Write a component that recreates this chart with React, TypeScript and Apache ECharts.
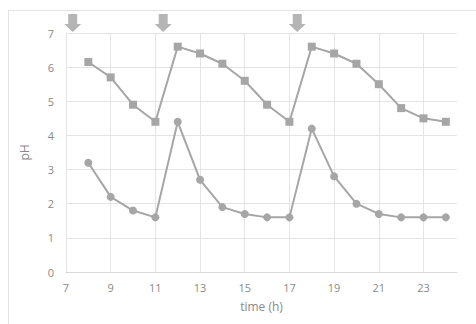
import React, { useEffect, useRef } from "react";
import * as echarts from "echarts";

const hours = [8, 9, 10, 11, 12, 13, 14, 15, 16, 17, 18, 19, 20, 21, 22, 23, 24];
const squareSeries = [6.15, 5.7, 4.9, 4.4, 6.6, 6.4, 6.1, 5.6, 4.9, 4.4, 6.6, 6.4, 6.1, 5.5, 4.8, 4.5, 4.4];
const circleSeries = [3.2, 2.2, 1.8, 1.6, 4.4, 2.7, 1.9, 1.7, 1.6, 1.6, 4.2, 2.8, 2.0, 1.7, 1.6, 1.6, 1.6];
const arrowTimes = [7.3, 11.35, 17.35];
const arrowLevel = 7;

const LINE = "#a6a6a6";
const TEXT = "#8a8a8a";
const FONT = "'Open Sans', 'Liberation Sans', sans-serif";

export default function App() {
  const ref = useRef<HTMLDivElement>(null);
  useEffect(() => {
    if (!ref.current) return;
    const chart = echarts.init(ref.current, null, { renderer: "svg" });
    const pair = (ys: number[]) => hours.map((h, i) => [h, ys[i]]);
    chart.setOption({
      animation: false,
      backgroundColor: "#ffffff",
      textStyle: { fontFamily: FONT },
      graphic: [
        {
          type: "rect",
          shape: { x: 8.5, y: 10.5, width: 490, height: 340 },
          style: { fill: "none", stroke: "#e3e3e3", lineWidth: 1 },
          silent: true,
          z: -1,
        },
      ],
      grid: { left: 66, right: 19, top: 33, bottom: 52 },
      xAxis: {
        type: "value",
        min: 7,
        max: 24.5,
        interval: 2,
        name: "time (h)",
        nameLocation: "middle",
        nameGap: 28,
        nameTextStyle: { color: TEXT, fontSize: 12, fontFamily: FONT },
        axisLine: { show: true, lineStyle: { color: "#d9d9d9", width: 1 } },
        axisTick: { show: false },
        axisLabel: { color: TEXT, fontSize: 11, margin: 10, showMaxLabel: false, fontFamily: FONT },
        splitLine: { show: true, showMaxLine: false, lineStyle: { color: "#e4e4e4", width: 1 } },
      },
      yAxis: {
        type: "value",
        min: 0,
        max: 7,
        interval: 1,
        name: "pH",
        nameLocation: "middle",
        nameGap: 36,
        nameTextStyle: { color: TEXT, fontSize: 12, fontFamily: FONT },
        axisLine: { show: false },
        axisTick: { show: false },
        axisLabel: { color: TEXT, fontSize: 11, margin: 12, fontFamily: FONT },
        splitLine: { show: true, lineStyle: { color: "#e4e4e4", width: 1 } },
      },
      series: [
        {
          type: "line",
          data: pair(squareSeries),
          symbol: "rect",
          symbolSize: 8,
          showAllSymbol: true,
          lineStyle: { color: LINE, width: 2 },
          itemStyle: { color: LINE },
        },
        {
          type: "line",
          data: pair(circleSeries),
          symbol: "circle",
          symbolSize: 8,
          showAllSymbol: true,
          lineStyle: { color: LINE, width: 2 },
          itemStyle: { color: LINE },
        },
        {
          type: "scatter",
          data: arrowTimes.map((t) => [t, arrowLevel]),
          symbol: "path://M4,0 H13 V10 H17 L8.5,18 L0,10 H4 Z",
          symbolSize: [17, 18],
          symbolOffset: [0, -10],
          clip: false,
          itemStyle: { color: "#a3a3a3" },
          z: 5,
        },
      ],
    });
    return () => chart.dispose();
  }, []);
  return (
    <div
      ref={ref}
      style={{ position: "fixed", left: 0, top: 0, width: 476, height: 324 }}
    />
  );
}
